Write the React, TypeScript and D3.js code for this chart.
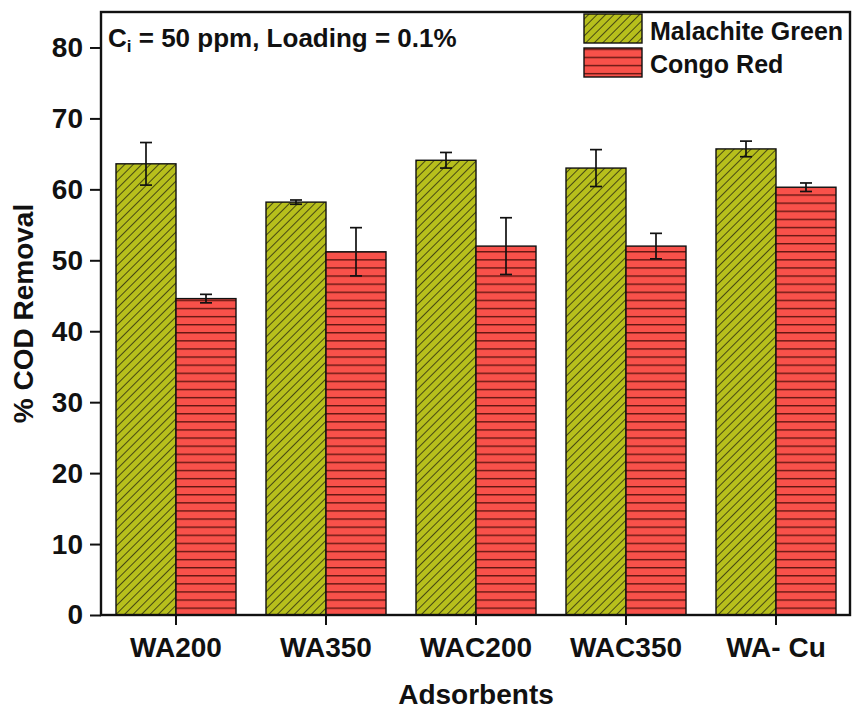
import React, { useEffect, useRef } from 'react'
import * as d3 from 'd3'

// data
const adsorbents = ['WA200', 'WA350', 'WAC200', 'WAC350', 'WA- Cu']
const seriesNames = ['Malachite Green', 'Congo Red']
const malachiteGreen = [63.6, 58.2, 64.1, 63.0, 65.7]
const malachiteGreenErr = [3.0, 0.3, 1.1, 2.6, 1.1]
const congoRed = [44.6, 51.2, 52.0, 52.0, 60.3]
const congoRedErr = [0.6, 3.4, 4.0, 1.8, 0.6]
const yTicks = [0, 10, 20, 30, 40, 50, 60, 70, 80]

const width = 853
const height = 713
const left = 101
const right = 851
const top = 12
const bottom = 615
const font = 'Liberation Sans, Arial, Helvetica, sans-serif'

const App = () => {
    const svgRef = useRef(null)

    useEffect(() => {
        const svg = d3.select(svgRef.current)
        svg.selectAll('*').remove()

        // patterns
        const defs = svg.append('defs')
        const pg = defs.append('pattern')
            .attr('id', 'hatchGreen')
            .attr('patternUnits', 'userSpaceOnUse')
            .attr('width', 6).attr('height', 6)
            .attr('patternTransform', 'rotate(45)')
        pg.append('rect').attr('width', 6).attr('height', 6).attr('fill', '#b7bf1c')
        pg.append('line').attr('x1', 0).attr('y1', 0).attr('x2', 0).attr('y2', 6)
            .attr('stroke', '#2a2a10').attr('stroke-width', 1.6)

        const pr = defs.append('pattern')
            .attr('id', 'hatchRed')
            .attr('patternUnits', 'userSpaceOnUse')
            .attr('width', 8).attr('height', 8.1)
        pr.append('rect').attr('width', 8).attr('height', 8.1).attr('fill', '#f8514a')
        pr.append('line').attr('x1', 0).attr('y1', 0.6).attr('x2', 8).attr('y2', 0.6)
            .attr('stroke', '#5e1510').attr('stroke-width', 1.5)

        const fills = ['url(#hatchGreen)', 'url(#hatchRed)']

        //  scales
        const xScale = d3.scaleBand()
            .domain(adsorbents)
            .range([left, right])
            .paddingInner(0.2)
            .paddingOuter(0.1)
        const xSub = d3.scaleBand()
            .domain(seriesNames)
            .range([0, xScale.bandwidth()])
        const yScale = d3.scaleLinear()
            .domain([0, 85])
            .range([bottom, top])

        const values = [malachiteGreen, congoRed]
        const errors = [malachiteGreenErr, congoRedErr]

        // bars
        seriesNames.forEach((s, si) => {
            const g = svg.append('g')
            g.selectAll('rect')
                .data(adsorbents)
                .join('rect')
                .attr('x', (d) => xScale(d) + xSub(s))
                .attr('y', (d, i) => yScale(values[si][i]))
                .attr('width', xSub.bandwidth())
                .attr('height', (d, i) => bottom - yScale(values[si][i]))
                .attr('fill', fills[si])
                .attr('stroke', '#111')
                .attr('stroke-width', 1.4)
        })

        // error bars
        seriesNames.forEach((s, si) => {
            const g = svg.append('g').attr('stroke', '#111').attr('stroke-width', 1.7)
            adsorbents.forEach((d, i) => {
                const cx = xScale(d) + xSub(s) + xSub.bandwidth() / 2
                const hi = yScale(values[si][i] + errors[si][i])
                const lo = yScale(values[si][i] - errors[si][i])
                g.append('line').attr('x1', cx).attr('x2', cx).attr('y1', hi).attr('y2', lo)
                g.append('line').attr('x1', cx - 6).attr('x2', cx + 6).attr('y1', hi).attr('y2', hi)
                g.append('line').attr('x1', cx - 6).attr('x2', cx + 6).attr('y1', lo).attr('y2', lo)
            })
        })

        // axes
        const yAxis = d3.axisLeft(yScale).tickValues(yTicks).tickSize(11).tickPadding(7)
        const yg = svg.append('g')
            .attr('transform', `translate(${left},0)`)
            .call(yAxis)
        yg.select('.domain').remove()
        yg.selectAll('line').attr('stroke', '#111').attr('stroke-width', 2)
        yg.selectAll('text')
            .attr('font-family', font).attr('font-size', 28).attr('font-weight', 'bold').attr('fill', '#111')

        const xAxis = d3.axisBottom(xScale).tickSize(10).tickPadding(12)
        const xg = svg.append('g')
            .attr('transform', `translate(0,${bottom})`)
            .call(xAxis)
        xg.select('.domain').remove()
        xg.selectAll('line').attr('stroke', '#111').attr('stroke-width', 2)
        xg.selectAll('text')
            .attr('font-family', font).attr('font-size', 28).attr('font-weight', 'bold').attr('fill', '#111')

        // frame
        svg.append('rect')
            .attr('x', left).attr('y', top)
            .attr('width', right - left - 1).attr('height', bottom - top)
            .attr('fill', 'none').attr('stroke', '#111').attr('stroke-width', 2.4)

        // axis titles
        svg.append('text')
            .attr('x', 476).attr('y', 704)
            .attr('text-anchor', 'middle')
            .attr('font-family', font).attr('font-size', 28).attr('font-weight', 'bold').attr('fill', '#111')
            .text('Adsorbents')
        svg.append('text')
            .attr('transform', `translate(33,${(top + bottom) / 2}) rotate(-90)`)
            .attr('text-anchor', 'middle')
            .attr('font-family', font).attr('font-size', 28).attr('font-weight', 'bold').attr('fill', '#111')
            .text('% COD Removal')

        // annotation
        const ann = svg.append('text')
            .attr('x', 108).attr('y', 47)
            .attr('font-family', font).attr('font-size', 26).attr('font-weight', 'bold').attr('fill', '#111')
        ann.append('tspan').text('C')
        ann.append('tspan').attr('font-size', 17).attr('dy', 5).text('i')
        ann.append('tspan').attr('dy', -5).text(' = 50 ppm, Loading = 0.1%')

        // legend
        const lg = svg.append('g')
        seriesNames.forEach((s, si) => {
            lg.append('rect')
                .attr('x', 584).attr('y', 14 + si * 34)
                .attr('width', 58).attr('height', 29)
                .attr('fill', fills[si]).attr('stroke', '#111').attr('stroke-width', 1.4)
            lg.append('text')
                .attr('x', 650).attr('y', 40 + si * 33)
                .attr('font-family', font).attr('font-size', 25).attr('font-weight', 'bold').attr('fill', '#111')
                .text(s)
        })
    }, [])

    return (
        <svg ref={svgRef} width={width} height={height}
            style={{ position: 'absolute', left: 0, top: 0, background: '#fff' }} />
    )
}

export default App
